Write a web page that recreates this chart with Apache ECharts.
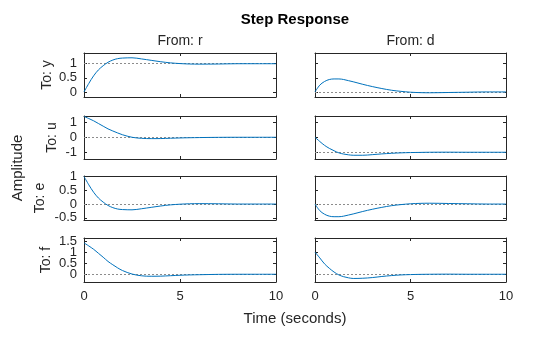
<!DOCTYPE html>
<html>
<head>
<meta charset="utf-8">
<script src="https://cdn.jsdelivr.net/npm/echarts@6/dist/echarts.min.js"></script>
<style>html,body{margin:0;padding:0;background:#fff}#c{width:560px;height:337px}</style>
</head>
<body>
<div id="c"></div>
<script>
// ---- data ----
const time = [0, 0.25, 0.5, 0.75, 1, 1.25, 1.5, 1.75, 2, 2.5, 3, 3.5, 4, 4.5, 5, 5.5, 6, 7, 8, 9, 10];
// From r
const y_r = [0, 0.30, 0.57, 0.78, 0.93, 1.05, 1.13, 1.18, 1.20, 1.21, 1.17, 1.12, 1.07, 1.03, 1.005, 0.99, 0.985, 0.99, 1.0, 1.0, 1.0];
const u_r = [1.39, 1.25, 1.10, 0.92, 0.74, 0.56, 0.42, 0.29, 0.17, 0.0, -0.07, -0.09, -0.085, -0.065, -0.045, -0.03, -0.02, -0.005, 0, 0, 0];
const e_r = [1.0, 0.70, 0.43, 0.22, 0.07, -0.05, -0.13, -0.18, -0.20, -0.21, -0.17, -0.12, -0.07, -0.03, -0.005, 0.01, 0.015, 0.01, 0, 0, 0];
const f_r = [1.42, 1.28, 1.13, 0.95, 0.77, 0.58, 0.43, 0.29, 0.17, 0.01, -0.07, -0.09, -0.085, -0.065, -0.045, -0.03, -0.02, -0.005, 0, 0, 0];
// From d
const y_d = [0, 0.24, 0.37, 0.44, 0.46, 0.46, 0.44, 0.40, 0.36, 0.27, 0.19, 0.12, 0.06, 0.02, -0.01, -0.025, -0.03, -0.02, -0.01, 0, 0];
const u_d = [0, -0.28, -0.54, -0.74, -0.90, -1.04, -1.12, -1.17, -1.20, -1.20, -1.16, -1.11, -1.07, -1.04, -1.02, -1.01, -1.0, -0.995, -1, -1, -1];
const e_d = [0, -0.24, -0.37, -0.44, -0.46, -0.46, -0.44, -0.40, -0.36, -0.27, -0.19, -0.12, -0.06, -0.02, 0.01, 0.025, 0.03, 0.02, 0.01, 0, 0];
const f_d = [1.0, 0.74, 0.47, 0.27, 0.10, -0.03, -0.11, -0.16, -0.19, -0.18, -0.15, -0.10, -0.06, -0.03, -0.015, -0.005, 0, 0.005, 0, 0, 0];
// steady-state (dotted) values
const ss_r = [1, 0, 0, 0];
const ss_d = [0, -1, 0, 0];
// labels and ticks
const outputs = ['y', 'u', 'e', 'f'];
const inputs = ['r', 'd'];
const yMin = [-0.18, -1.45, -0.58, -0.35];
const yMax = [1.38, 1.42, 1.02, 1.64];
const yTicks = [[0, 0.5, 1], [-1, 0, 1], [-0.5, 0, 0.5, 1], [0, 0.5, 1, 1.5]];
const xTicks = [0, 5, 10];

// ---- layout ----
const colLeft = [84, 315];
const colWidth = [192, 191];
const rowTop = [53, 116, 176, 238];
const rowHeight = [44, 43, 44, 44];
const nameGaps = [30, 25, 37, 31];
const FONT = "'Liberation Sans', Arial, sans-serif";
const INK = '#262626';

const seriesData = [[y_r, y_d], [u_r, u_d], [e_r, e_d], [f_r, f_d]];
const ssData = [ss_r, ss_d];

const grids = [], xAxes = [], yAxes = [], series = [], extraY = [];
const labelBase = {color: INK, fontSize: 13, fontFamily: FONT, margin: 7, hideOverlap: false, showMinLabel: true, showMaxLabel: true};
for (let r = 0; r < 4; r++) {
  for (let c = 0; c < 2; c++) {
    const g = grids.length;
    grids.push({left: colLeft[c], top: rowTop[r], width: colWidth[c], height: rowHeight[r], containLabel: false});
    const lineStyle = {color: INK, width: 1};
    const tick = {show: true, inside: true, length: 3, lineStyle: {color: INK, width: 1}};
    // bottom x
    xAxes.push({type: 'value', gridIndex: g, position: 'bottom', min: 0, max: 10,
      axisLine: {show: true, onZero: false, lineStyle},
      axisTick: Object.assign({}, tick, {customValues: xTicks}), splitLine: {show: false},
      axisLabel: Object.assign({}, labelBase, {show: r === 3, customValues: xTicks, margin: 8})});
    // top x
    xAxes.push({type: 'value', gridIndex: g, position: 'top', min: 0, max: 10,
      axisLine: {show: true, onZero: false, lineStyle},
      axisTick: Object.assign({}, tick, {customValues: xTicks}), splitLine: {show: false}, axisLabel: {show: false}});
    // left y (labels split over two axes when they are tightly packed)
    const ticks = yTicks[r];
    const dense = ticks.length > 3 && rowHeight[r] / (yMax[r] - yMin[r]) * 0.5 < 12.5;
    const mainLabels = dense ? ticks.filter((v, i) => i % 2 === 0) : ticks;
    const altLabels = dense ? ticks.filter((v, i) => i % 2 === 1) : [];
    yAxes.push({type: 'value', gridIndex: g, position: 'left', min: yMin[r], max: yMax[r],
      axisLine: {show: true, onZero: false, lineStyle},
      axisTick: Object.assign({}, tick, {customValues: ticks}),
      splitLine: {show: false},
      axisLabel: Object.assign({}, labelBase, {show: c === 0, customValues: mainLabels}),
      name: c === 0 ? 'To: ' + outputs[r] : '', nameLocation: 'middle', nameRotate: 90, nameGap: nameGaps[r],
      nameMoveOverlap: false,
      nameTextStyle: {color: INK, fontSize: 14, fontFamily: FONT}});
    // right y
    yAxes.push({type: 'value', gridIndex: g, position: 'right', min: yMin[r], max: yMax[r],
      axisLine: {show: true, onZero: false, lineStyle},
      axisTick: Object.assign({}, tick, {customValues: ticks}),
      splitLine: {show: false}, axisLabel: {show: false}});
    if (c === 0 && dense) {
      extraY.push({type: 'value', gridIndex: g, position: 'left', offset: 0, min: yMin[r], max: yMax[r],
        axisLine: {show: false}, axisTick: {show: false}, splitLine: {show: false},
        axisLabel: Object.assign({}, labelBase, {customValues: altLabels})});
    }
    const vals = seriesData[r][c];
    series.push({
      type: 'line', xAxisIndex: 2 * g, yAxisIndex: 2 * g,
      data: time.map((t, i) => [t, vals[i]]),
      showSymbol: false, smooth: 0.35, clip: true,
      lineStyle: {color: '#0072BD', width: 1}, itemStyle: {color: '#0072BD'},
      animation: false, z: 3,
      markLine: {silent: true, symbol: 'none', animation: false, z: 2,
        label: {show: false},
        lineStyle: {color: '#8c8c8c', type: [2, 2], width: 1},
        data: [{yAxis: ssData[c][r]}]}
    });
  }
}

const chart = echarts.init(document.getElementById('c'), null, {renderer: 'canvas'});
chart.setOption({
  backgroundColor: '#ffffff',
  animation: false,
  grid: grids, xAxis: xAxes, yAxis: yAxes.concat(extraY), series: series,
  graphic: [
    {type: 'text', style: {text: 'Step Response', x: 295, y: 20, textAlign: 'center', textVerticalAlign: 'middle', fontSize: 15, fontWeight: 'bold', fontFamily: FONT, fill: '#000'}},
    {type: 'text', style: {text: 'From: ' + inputs[0], x: 180, y: 41, textAlign: 'center', textVerticalAlign: 'middle', fontSize: 14, fontFamily: FONT, fill: INK}},
    {type: 'text', style: {text: 'From: ' + inputs[1], x: 410.5, y: 41, textAlign: 'center', textVerticalAlign: 'middle', fontSize: 14, fontFamily: FONT, fill: INK}},
    {type: 'text', rotation: Math.PI / 2, x: 18, y: 168, style: {text: 'Amplitude', x: 0, y: 0, textAlign: 'center', textVerticalAlign: 'middle', fontSize: 15, fontFamily: FONT, fill: INK}},
    {type: 'text', style: {text: 'Time (seconds)', x: 295, y: 319, textAlign: 'center', textVerticalAlign: 'middle', fontSize: 15, fontFamily: FONT, fill: INK}}
  ]
});
</script>
</body>
</html>
